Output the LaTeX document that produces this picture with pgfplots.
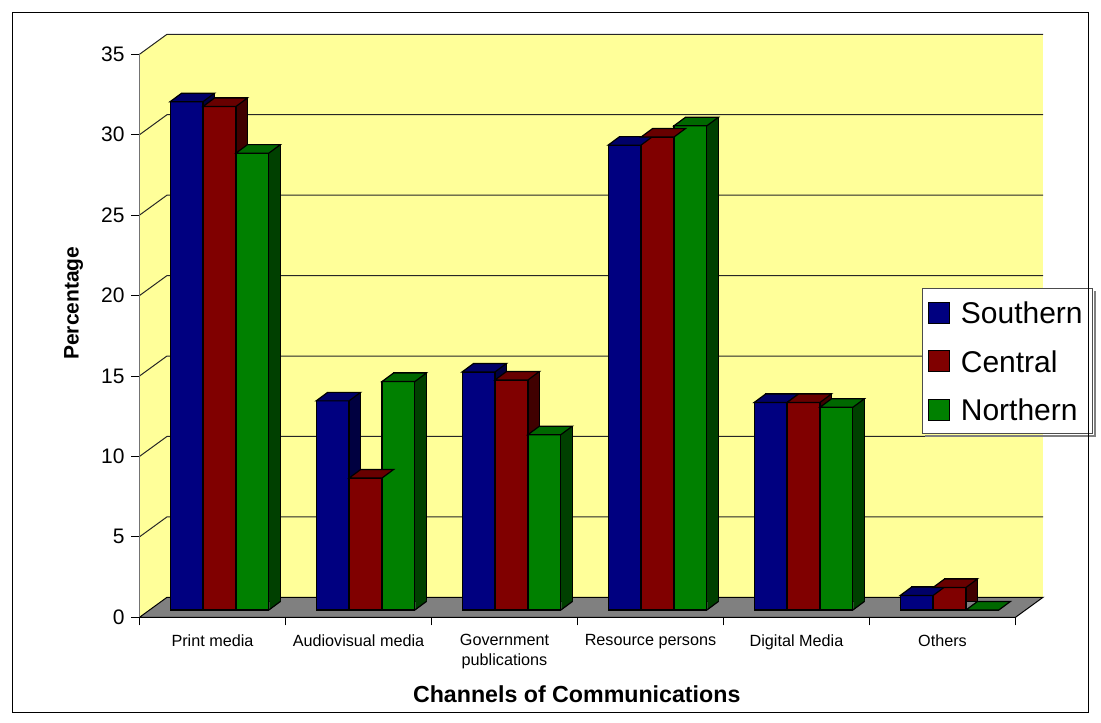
\documentclass[border=0pt]{standalone}
\usepackage{fontspec}
\setmainfont{Liberation Sans}
\usepackage{pgfplots}
\usepackage{pgfplotstable}
\pgfplotsset{compat=1.18}

\definecolor{wall}{HTML}{FFFF99}
\definecolor{floorc}{HTML}{808080}
\definecolor{bluef}{HTML}{000080}
\definecolor{bluet}{HTML}{000068}
\definecolor{blues}{HTML}{000040}
\definecolor{redf}{HTML}{800000}
\definecolor{redt}{HTML}{680000}
\definecolor{reds}{HTML}{400000}
\definecolor{greenf}{HTML}{008000}
\definecolor{greent}{HTML}{006800}
\definecolor{greens}{HTML}{004000}

\pgfdeclareplotmark{topface}{%
  \pgfpathmoveto{\pgfpoint{-8.225pt}{0pt}}%
  \pgfpathlineto{\pgfpoint{8.225pt}{0pt}}%
  \pgfpathlineto{\pgfpoint{13.975pt}{4.25pt}}%
  \pgfpathlineto{\pgfpoint{-2.475pt}{4.25pt}}%
  \pgfpathclose
  \pgfusepathqfillstroke}
\pgfdeclareplotmark{bottri}{%
  \pgfpathmoveto{\pgfpoint{8.45pt}{0pt}}%
  \pgfpathlineto{\pgfpoint{13.975pt}{4.25pt}}%
  \pgfpathlineto{\pgfpoint{13.975pt}{5.2pt}}%
  \pgfpathlineto{\pgfpoint{8.45pt}{5.2pt}}%
  \pgfpathclose
  \pgfusepathqfill
  \pgfpathmoveto{\pgfpoint{8.225pt}{0pt}}%
  \pgfpathlineto{\pgfpoint{13.975pt}{4.25pt}}%
  \pgfusepathqstroke}

\tikzset{sh/.style={xshift=13.75pt,yshift=10pt}}

\pgfplotstableread{
x S C N
0 31.6 31.3 28.4
1 13.0 8.2 14.2
2 14.8 14.3 10.9
3 28.9 29.4 30.1
4 12.9 12.9 12.6
5 0.9 1.4 0.0
}\datatable

\begin{document}
\begin{tikzpicture}
\begin{axis}[
  x=73pt, y=8.043pt,
  xmin=-0.5, xmax=5.5, ymin=0, ymax=35,
  enlargelimits=false, clip=false, axis on top,
  axis x line*=bottom, axis y line*=left,
  x axis line style={black, line width=0.5pt},
  y axis line style={black!55, line width=0.5pt},
  tick align=outside,
  major tick length=4pt,
  tick style={black, line width=0.5pt},
  ytick={0,5,...,35},
  xtick={-0.5,0.5,...,5.5},
  xticklabels={},
  extra x ticks={0,1,2,3,4,5},
  extra x tick labels={Print media, Audiovisual media, {Government\\publications}, Resource persons, Digital Media, Others},
  extra x tick style={major tick length=0pt},
  xticklabel style={font=\fontsize{8.1}{10}\selectfont, align=center, yshift=-5pt},
  yticklabel style={font=\fontsize{10.5}{12}\selectfont},
  /pgf/number format/assume math mode=true,
  ylabel={Percentage},
  ylabel style={at={(axis description cs:-0.0753,0.558)}, anchor=center, font=\fontsize{10.5}{12}\selectfont\bfseries},
  xlabel={Channels of Communications},
  xlabel style={at={(axis description cs:0.4991,-0.1362)}, anchor=center, font=\fontsize{11.6}{14}\selectfont\bfseries},
  legend style={name=leg, at={(0.893,0.5844)}, anchor=north west, draw=black!70, fill=white,
    font=\fontsize{15}{18}\selectfont, inner xsep=3pt, inner ysep=3pt,
    row sep=6pt, legend cell align=left,
    nodes={inner sep=2pt, text height=12.5pt, text depth=1.7pt},
    /tikz/every odd column/.append style={column sep=3.5pt}},
  legend image code/.code={\draw[#1, draw=black, line width=0.5pt] (0pt,-5.2pt) rectangle (10.35pt,5.2pt);},
]
\coordinate (O) at (axis cs:-0.5,0);
% walls and floor
\fill[wall] ([sh]axis cs:-0.5,0) rectangle ([sh]axis cs:5.5,35);
\fill[wall] (axis cs:-0.5,0) -- (axis cs:-0.5,35) -- ([sh]axis cs:-0.5,35) -- ([sh]axis cs:-0.5,0) -- cycle;
\filldraw[fill=floorc, draw=black, line width=0.5pt] (axis cs:-0.5,0) -- (axis cs:5.5,0) -- ([sh]axis cs:5.5,0) -- ([sh]axis cs:-0.5,0) -- cycle;
\pgfplotsinvokeforeach{5,10,...,35}{
  \draw[black!85, line width=0.5pt] (axis cs:-0.5,#1) -- ([sh]axis cs:-0.5,#1) -- ([sh]axis cs:5.5,#1);
}
% Southern
\addplot[ybar, forget plot, bar width=16.45pt, bar shift=-10.7pt, xshift=3.5pt, yshift=7.9pt, fill=blues, draw=black, line width=0.6pt] table[x=x,y=S]{\datatable};
\addplot[ybar, forget plot, bar width=16.45pt, bar shift=-16.45pt, xshift=3.5pt, yshift=3.65pt, fill=bluef, draw=black, line width=0.6pt] table[x=x,y=S]{\datatable};
\addplot[only marks, forget plot, mark=topface, xshift=-12.95pt, yshift=3.65pt, mark options={fill=bluet, draw=black, line width=0.6pt}] table[x=x,y=S]{\datatable};
% Central
\addplot[ybar, forget plot, bar width=16.45pt, bar shift=5.75pt, xshift=3.5pt, yshift=7.9pt, fill=reds, draw=black, line width=0.6pt] table[x=x,y=C]{\datatable};
\addplot[ybar, forget plot, bar width=16.45pt, bar shift=0pt, xshift=3.5pt, yshift=3.65pt, fill=redf, draw=black, line width=0.6pt] table[x=x,y=C]{\datatable};
\addplot[only marks, forget plot, mark=topface, xshift=3.5pt, yshift=3.65pt, mark options={fill=redt, draw=black, line width=0.6pt}] table[x=x,y=C]{\datatable};
% Northern
\addplot[ybar, forget plot, bar width=16.45pt, bar shift=22.2pt, xshift=3.5pt, yshift=7.9pt, fill=greens, draw=black, line width=0.6pt] table[x=x,y=N]{\datatable};
\addplot[ybar, forget plot, bar width=16.45pt, bar shift=16.45pt, xshift=3.5pt, yshift=3.65pt, fill=greenf, draw=black, line width=0.6pt] table[x=x,y=N]{\datatable};
\addplot[only marks, forget plot, mark=topface, xshift=19.95pt, yshift=3.65pt, mark options={fill=greent, draw=black, line width=0.6pt}] table[x=x,y=N]{\datatable};
\addplot[only marks, forget plot, mark=bottri, xshift=19.95pt, yshift=3.65pt, mark options={fill=greens, draw=black, line width=0.6pt}] coordinates {(0,0) (1,0) (2,0) (3,0) (4,0)};
% legend
\addlegendimage{fill=bluef}
\addlegendentry{Southern}
\addlegendimage{fill=redf}
\addlegendentry{Central}
\addlegendimage{fill=greenf}
\addlegendentry{Northern}
\end{axis}
\draw[black!50, line width=1.1pt] ([shift={(0.9pt,-1.5pt)}]leg.north east) -- ([shift={(0.9pt,-0.9pt)}]leg.south east) -- ([shift={(1.5pt,-0.9pt)}]leg.south west);
\draw[black, line width=0.5pt] ([shift={(-63.25pt,-47.35pt)}]O) rectangle ([shift={(474.25pt,302.15pt)}]O);
\path ([shift={(-69.75pt,-52.35pt)}]O) rectangle ([shift={(480.75pt,308.65pt)}]O);
\end{tikzpicture}
\end{document}
